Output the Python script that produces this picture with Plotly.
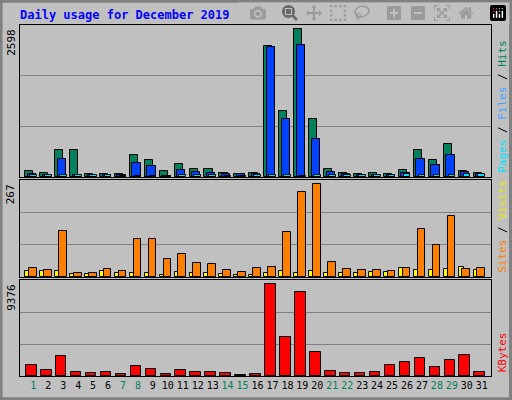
import plotly.graph_objects as go
from plotly.subplots import make_subplots

days = list(range(1, 32))
weekend = [1, 7, 8, 14, 15, 21, 22, 28, 29]

hits = [100, 76, 470, 470, 59, 59, 47, 382, 294, 100, 223, 135, 135, 76, 59, 76,
        2305, 1158, 2598, 1017, 135, 76, 59, 76, 59, 118, 482, 306, 588, 100, 76]
files = [59, 41, 323, 35, 29, 29, 29, 253, 188, 18, 129, 88, 71, 47, 47, 59,
         2281, 1017, 2322, 676, 88, 59, 41, 41, 41, 76, 323, 218, 394, 88, 59]
pages = [41, 41, 41, 41, 29, 29, 18, 24, 24, 18, 41, 41, 41, 24, 24, 29,
         41, 41, 18, 41, 41, 41, 29, 29, 41, 59, 41, 41, 41, 59, 59]
visits = [27, 21, 133, 12, 12, 24, 16, 108, 108, 53, 67, 41, 38, 21, 15, 27,
          30, 128, 243, 267, 44, 24, 21, 21, 18, 27, 139, 93, 174, 24, 27]
sites = [18, 18, 18, 10, 10, 18, 12, 12, 12, 7, 15, 12, 12, 10, 7, 7,
         12, 18, 12, 18, 12, 12, 12, 15, 15, 27, 21, 21, 24, 30, 21]
kbytes = [1163, 650, 2086, 445, 342, 445, 240, 1060, 752, 240, 650, 445, 445, 342, 137, 240,
          9376, 4036, 8550, 2497, 547, 342, 342, 445, 1163, 1471, 1881, 958, 1676, 2189, 445]

BG = "#C0C0C0"
FONT = "DejaVu Sans Mono"

fig = make_subplots(rows=3, cols=1)

def bar(y, color, offset, width, row):
    fig.add_trace(go.Bar(x=days, y=y, marker=dict(color=color, line=dict(color="black", width=1)),
                         offset=offset, width=width, showlegend=False), row=row, col=1)

bar(hits, "#00805c", -0.55, 0.55, 1)
bar(files, "#0040ff", -0.37, 0.55, 1)
bar(pages, "#00e0ff", -0.22, 0.45, 1)
bar(sites, "#ffff00", -0.55, 0.33, 2)
bar(visits, "#ff8000", -0.29, 0.52, 2)
bar(kbytes, "#ff0000", -0.49, 0.71, 3)

xdom = [20 / 512, 491 / 512]
ydoms = [[0.5575, 0.9375], [0.3075, 0.55], [0.06, 0.30]]
ranges = [2674, 278.5, 9817]
maxes = [2598, 267, 9376]

ticktext = ['<span style="color:%s">%d</span>' % ("#00805c" if d in weekend else "black", d) for d in days]

for i in range(3):
    r = i + 1
    fig.update_xaxes(domain=xdom, range=[0.11, 31.62], showgrid=False, zeroline=False,
                     showline=True, linecolor="black", mirror=True, tickangle=0,
                     tickvals=days if r == 3 else [], ticktext=ticktext if r == 3 else [],
                     ticks="", tickfont=dict(family=FONT, size=10), row=r, col=1)
    fig.update_yaxes(domain=ydoms[i], range=[0, ranges[i]], showgrid=True, gridcolor="#808080",
                     gridwidth=1, zeroline=False, tickvals=[ranges[i] / 3, 2 * ranges[i] / 3],
                     showticklabels=False, showline=True, linecolor="black", mirror=True,
                     row=r, col=1)
    fig.add_annotation(text=str(maxes[i]), xref="paper", yref="paper", x=0.022,
                       y=ydoms[i][1] - 0.005, xanchor="center", yanchor="top", textangle=-90,
                       showarrow=False, font=dict(family=FONT, size=11, color="black"))

right = [
    '<span style="color:#00e0ff">Pages</span> / <span style="color:#40a0ff">Files</span> / <span style="color:#00805c">Hits</span>',
    '<span style="color:#ff8000">Sites</span> / <span style="color:#e8e800">Visits</span>',
    '<span style="color:#ff0000">KBytes</span>',
]
for i in range(3):
    fig.add_annotation(text=right[i], xref="paper", yref="paper", x=0.981, y=ydoms[i][0] + 0.005,
                       xanchor="center", yanchor="bottom", textangle=-90, showarrow=False,
                       font=dict(family=FONT, size=11, color="black"))

fig.add_annotation(text="<b>Daily usage for December 2019</b>", xref="paper", yref="paper",
                   x=0.035, y=0.985, xanchor="left", yanchor="top", showarrow=False,
                   font=dict(family=FONT, size=12, color="#0000ff"))

# bevelled outer frame
fig.add_shape(type="rect", xref="paper", yref="paper", x0=0.002, y0=0.003, x1=0.997, y1=0.997,
              line=dict(color="#808080", width=3))

fig.update_layout(width=512, height=400, margin=dict(l=0, r=0, t=0, b=0),
                  paper_bgcolor=BG, plot_bgcolor=BG, barmode="overlay", bargap=0)
fig.write_html("out.html", post_script="document.body.style.margin='0';document.body.style.overflow='hidden';")
